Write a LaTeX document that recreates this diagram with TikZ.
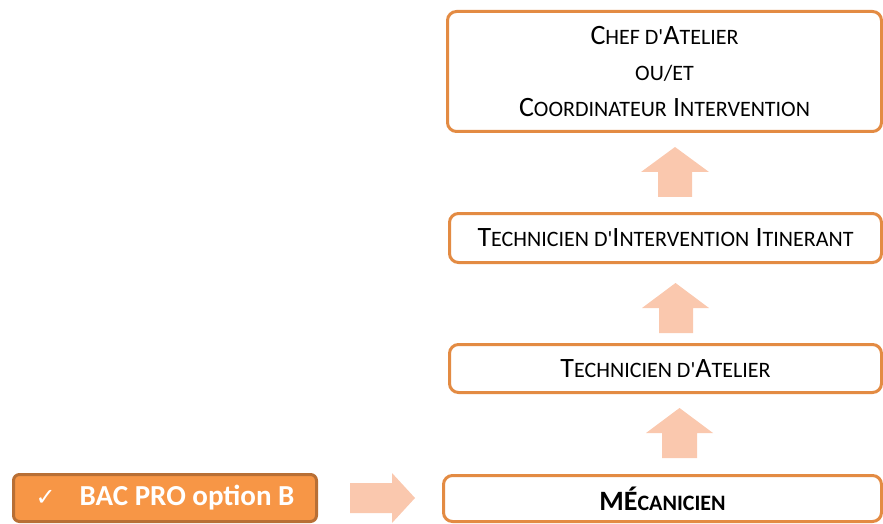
\documentclass[tikz,border=0pt]{standalone}
\usepackage{fontspec}
\setmainfont{Carlito}[Ligatures=TeXOff]
\newfontfamily\symfont{DejaVu Sans}
\definecolor{boxline}{HTML}{E38B43}
\definecolor{arrowfill}{HTML}{FAC8AE}
\definecolor{bacfill}{HTML}{F79646}
\definecolor{bacline}{HTML}{B86F35}
\newcommand\lc[1]{{\fontsize{22}{36}\selectfont #1}}
\tikzset{
  stage/.style={draw=boxline, line width=3pt, rounded corners=9pt, fill=white,
    inner sep=0pt, align=center, font=\fontsize{28}{36}\selectfont, text=black},
  bac/.style={draw=bacline, fill=bacfill, line width=3pt, rounded corners=6pt,
    inner sep=0pt, text=white, font=\bfseries\fontsize{29}{32}\selectfont},
  blockarrow/.style={fill=arrowfill, draw=none}
}
\begin{document}
\begin{tikzpicture}[x=1pt,y=1pt]
\useasboundingbox (0,0) rectangle (883,523);
\node[stage, minimum width=434pt, minimum height=120pt] (chef) at (664.5,451.5)
  {C\lc{HEF D'}A\lc{TELIER}\\ \lc{OU/ET}\\ C\lc{OORDINATEUR} I\lc{NTERVENTION}};
\node[stage, minimum width=432pt, minimum height=49pt] (tii) at (665.5,285)
  {T\lc{ECHNICIEN D'}I\lc{NTERVENTION} I\lc{TINERANT}};
\node[stage, minimum width=432pt, minimum height=48pt] (ta) at (665.5,154.5)
  {T\lc{ECHNICIEN D'}A\lc{TELIER}};
\node[stage, minimum width=438pt, minimum height=46pt, font=\bfseries\fontsize{28}{36}\selectfont] (meca) at (662.5,24.5)
  {MÉ\lc{CANICIEN}};
\node[bac, minimum width=303pt, minimum height=47pt] (bacpro) at (165,25)
  {{\mdseries\symfont\fontsize{24}{24}\selectfont ✓}\hspace{24pt}BAC PRO option B};
% block arrows
\fill[blockarrow] (658,326) -- (692,326) -- (692,351) -- (709,351) -- (675,376) -- (641,351) -- (658,351) -- cycle;
\fill[blockarrow] (659,190) -- (693,190) -- (693,215) -- (709,215) -- (675.5,240) -- (642,215) -- (659,215) -- cycle;
\fill[blockarrow] (662,65) -- (697,65) -- (697,90) -- (713,90) -- (679.5,115) -- (646,90) -- (662,90) -- cycle;
\fill[blockarrow] (350,10) -- (392,10) -- (392,0) -- (415,25) -- (392,50) -- (392,40) -- (350,40) -- cycle;
\end{tikzpicture}
\end{document}
